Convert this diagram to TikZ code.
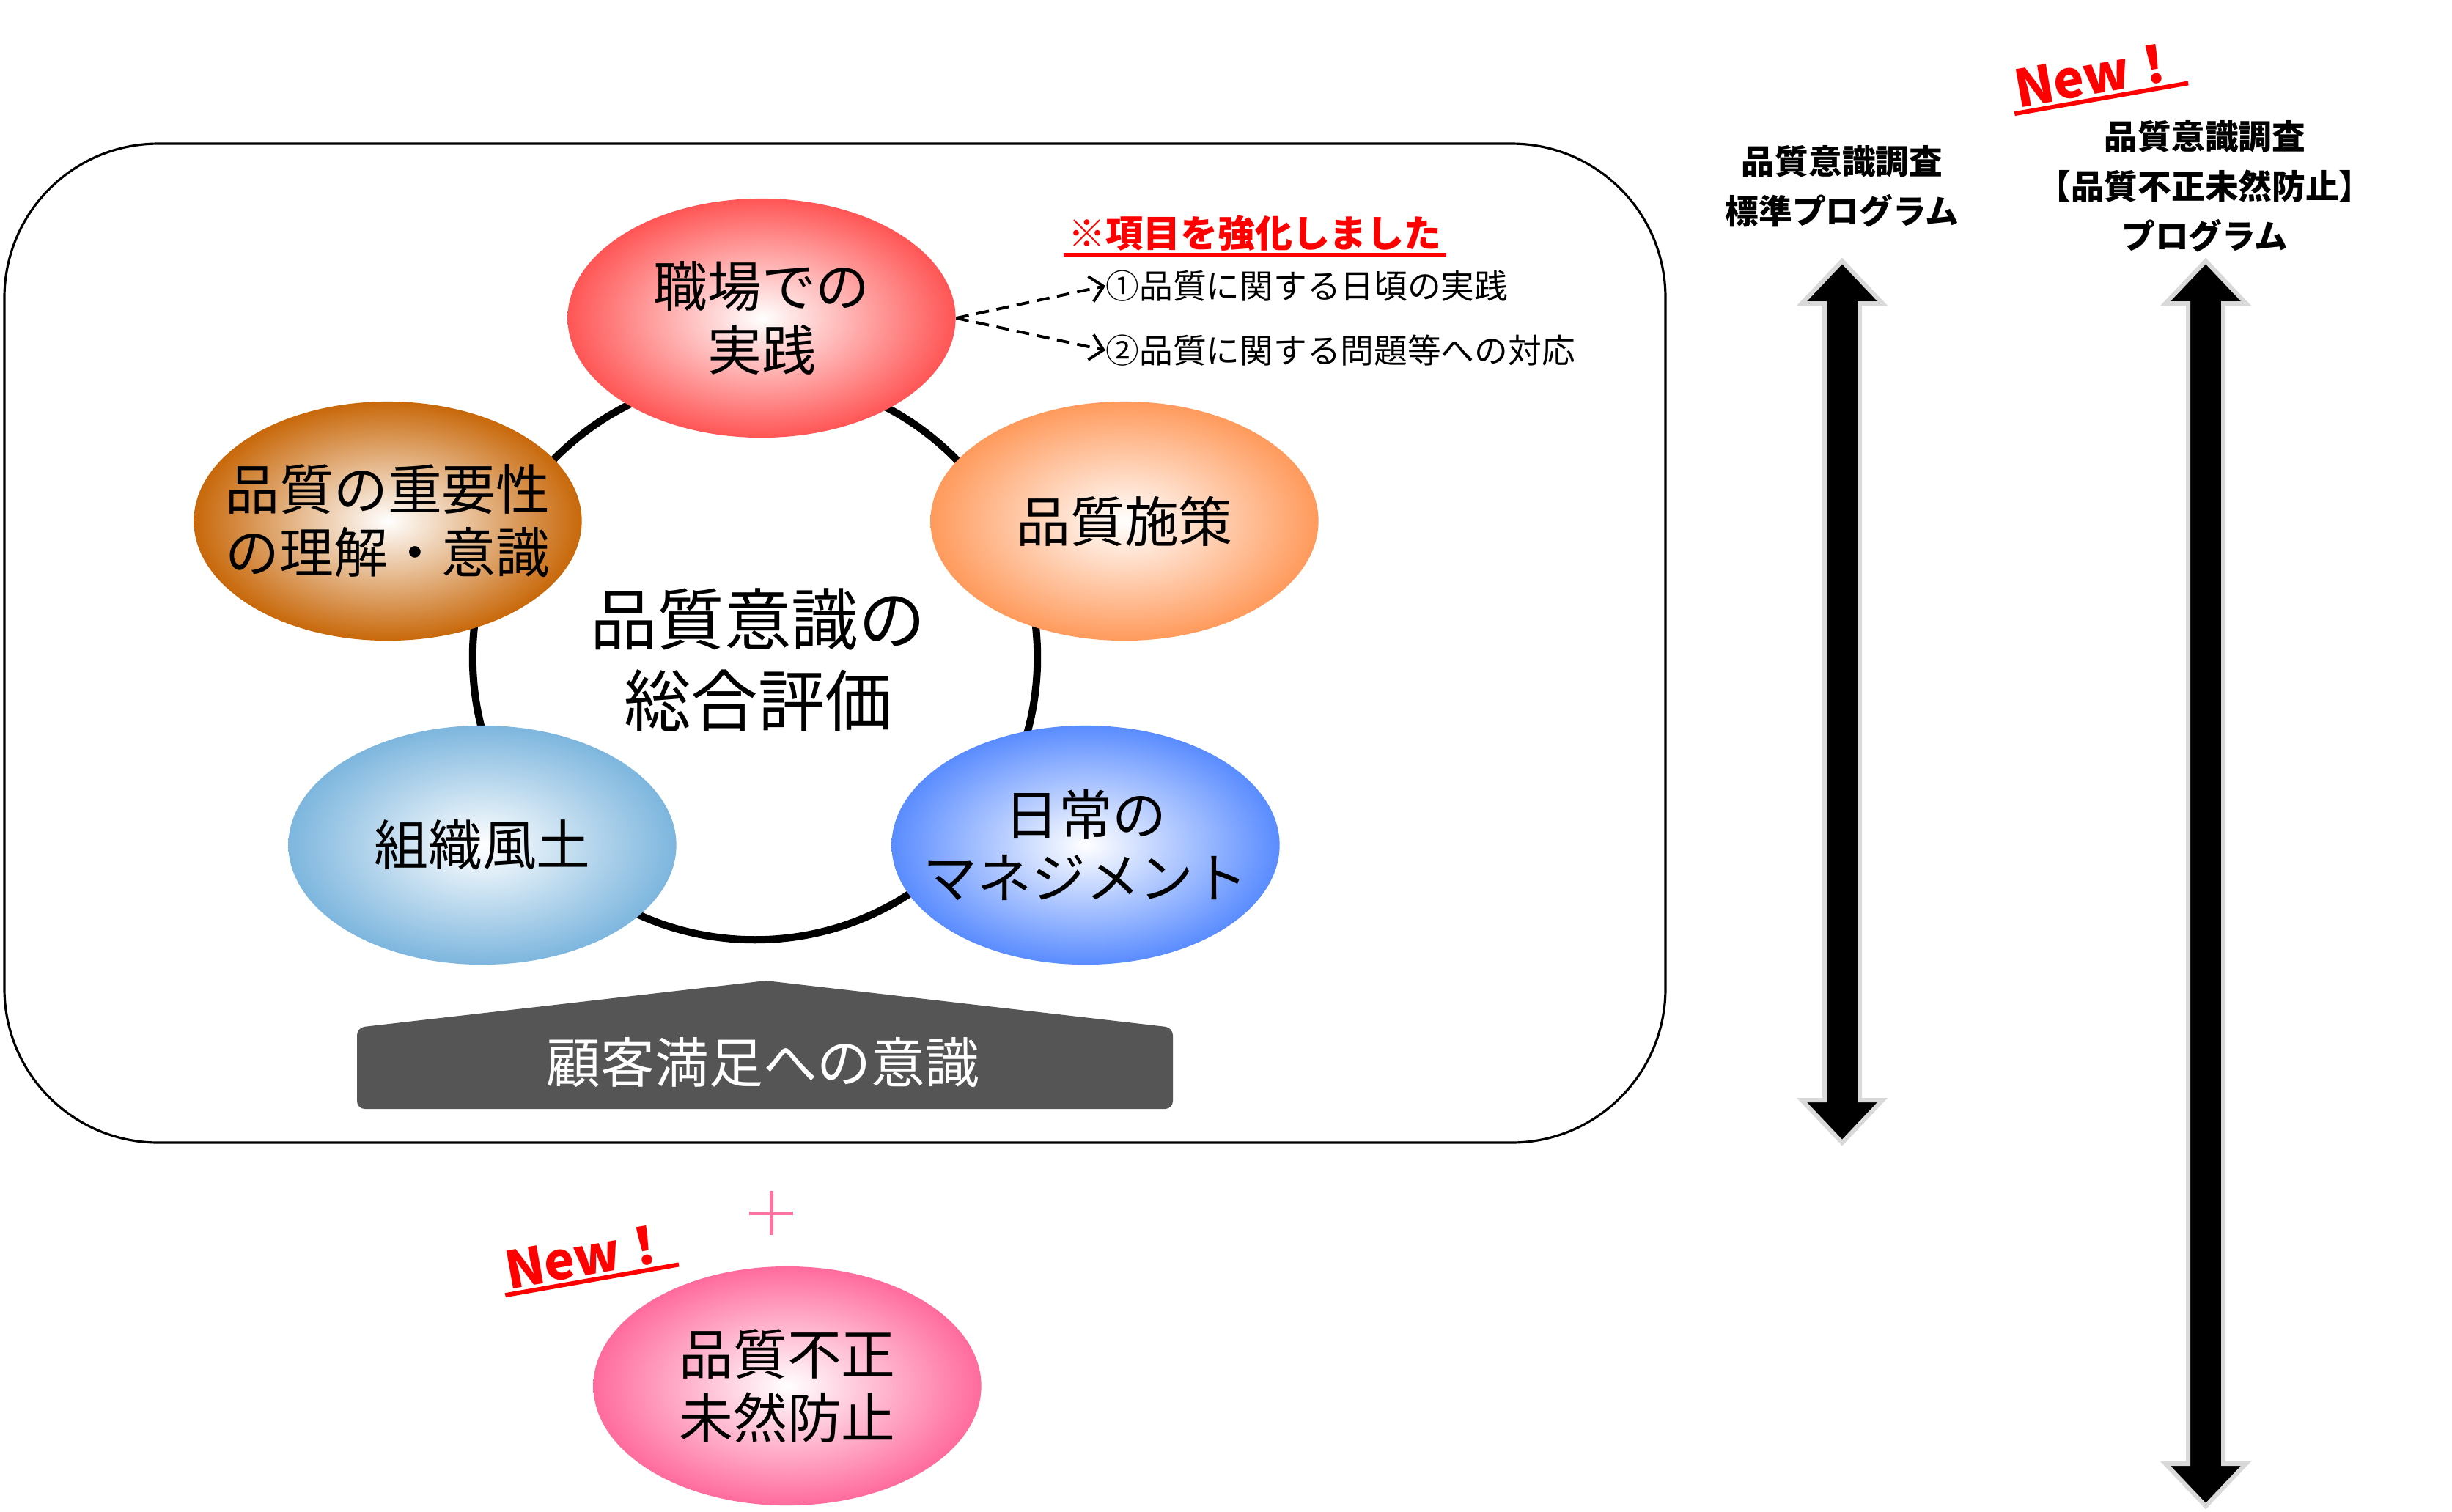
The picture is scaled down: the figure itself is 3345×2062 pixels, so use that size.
\documentclass[tikz,border=0pt]{standalone}
\usepackage{fontspec}
\setmainfont{Noto Sans CJK JP}
\setsansfont{Liberation Sans}
\usetikzlibrary{arrows.meta, shapes.geometric}
\definecolor{cred}{HTML}{FF5555}
\definecolor{corange}{HTML}{FF9A5C}
\definecolor{cbrown}{HTML}{C8680A}
\definecolor{csky}{HTML}{7DB6DE}
\definecolor{cblue}{HTML}{5A8CFF}
\definecolor{cpink}{HTML}{FF6B9D}
\definecolor{cplus}{HTML}{FF73A0}
\definecolor{chouse}{HTML}{555555}
\definecolor{cedge}{HTML}{D9D9D9}
\tikzset{
  ball/.style={ellipse, inner color=white, outer color=#1, minimum width=5.29cm, minimum height=3.26cm, inner xsep=-0.6cm, inner ysep=-0.3cm, align=center, font=\fontsize{21}{24.5}\selectfont},
  note/.style={font=\fontsize{13}{16}\selectfont, inner sep=0pt, anchor=west},
  survey/.style={font=\bfseries\fontsize{13}{19.4}\selectfont, align=center},
  newtag/.style={text=red, font=\bfseries\fontsize{20}{22}\selectfont, rotate=10, inner sep=1.5pt},
  dasharrow/.style={-{Straight Barb[length=5pt, width=10pt]}, dash pattern=on 5pt off 3pt, line width=1.1pt},
  fatarrow/.style={fill=black, draw=cedge, line width=0.06cm},
}

\begin{document}
\begin{tikzpicture}[x=0.01cm, y=-0.01cm]
  \useasboundingbox[fill=white] (0,0) rectangle (3345,2062);
  % frame and ring
  \draw[rounded corners=2.1cm, line width=0.9pt] (6,196) rectangle (2272,1559);
  \draw[line width=0.1cm] (1030,897) circle[radius=3.85cm];
  % five elements
  \node[ball=cred] (jissen) at (1039,434) {職場での\\実践};
  \node[ball=corange] (shisaku) at (1534,711) {品質施策};
  \node[ball=cbrown] (juyo) at (529,711) {品質の重要性\\の理解・意識};
  \node[ball=csky] (fudo) at (658,1153) {組織風土};
  \node[ball=cblue] (nichijo) at (1481,1153) {日常の\\マネジメント};
  \node[font=\fontsize{26}{31.5}\selectfont, align=center] (sogo) at (1034,900) {品質意識の\\総合評価};
  % strengthened items
  \node[text=red, font=\bfseries\fontsize{14.5}{17}\selectfont, inner sep=1.5pt] (kyoka) at (1712,318) {※項目を強化しました};
  \draw[red, line width=1.7pt] (kyoka.south west) -- (kyoka.south east);
  \node[note] (item1) at (1508,390) {①品質に関する日頃の実践};
  \node[note] (item2) at (1508,478) {②品質に関する問題等への対応};
  \draw[dasharrow] (jissen.east) -- (item1.west);
  \draw[dasharrow] (jissen.east) -- (item2.west);
  % base
  \fill[chouse, rounded corners=3pt] (487,1513) -- (487,1402) -- (1045,1338) -- (1600,1402) -- (1600,1513) -- cycle;
  \node[text=white, font=\fontsize{21}{24}\selectfont] (kokyaku) at (1041,1450) {顧客満足への意識};
  % new element
  \draw[cplus, line width=0.05cm] (1022,1655) -- (1082,1655) (1052,1625) -- (1052,1685);
  \node[newtag] (new1) at (802,1714) {New！};
  \draw[red, line width=1.7pt] (new1.south west) -- (new1.south east);
  \node[ball=cpink] (fusei) at (1074,1891) {品質不正\\未然防止};
  % programs
  \node[survey] (std) at (2513,254) {品質意識調査\\標準プログラム};
  \node[survey] (prev) at (3008,254) {品質意識調査\\【品質不正未然防止】\\プログラム};
  \node[newtag] (new2) at (2861,102) {New！};
  \draw[red, line width=1.7pt] (new2.south west) -- (new2.south east);
  \foreach \x/\ya/\yb in {2513/356/1559, 3009/356/2055} {
    \draw[fatarrow] (\x,\ya) -- ++(55,58) -- ++(-31,0) -- (\x+24,\yb-58) -- ++(31,0)
      -- (\x,\yb) -- ++(-55,-58) -- ++(31,0) -- (\x-24,\ya+58) -- ++(-31,0) -- cycle;
  }
\end{tikzpicture}
\end{document}
